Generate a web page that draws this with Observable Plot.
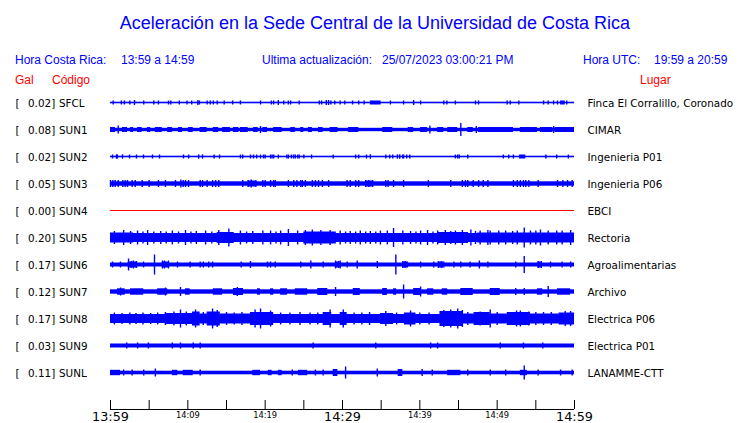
<!DOCTYPE html>
<html><head><meta charset="utf-8">
<script src="https://cdn.jsdelivr.net/npm/d3@7"></script>
<script src="https://cdn.jsdelivr.net/npm/@observablehq/plot@0.6"></script>
<style>
body{margin:0;background:#fff;}
#wrap{position:relative;width:740px;height:423px;overflow:hidden;font-family:"Liberation Sans",Arial,sans-serif;}
.t{position:absolute;white-space:pre;line-height:1;}
.blue{color:#0000ff;}
.red{color:#ff0000;}
#traces,#axis{position:absolute;left:0;}
#traces{top:89px;}
#axis{top:395px;}
</style></head><body>
<div id="wrap">
  <div class="t blue" id="title" style="top:14px;left:0;width:750px;text-align:center;font-size:18px;"></div>
  <div class="t blue" id="h1" style="top:54px;left:15px;font-size:12px;"></div>
  <div class="t blue" id="h1b" style="top:54px;left:121px;font-size:12px;"></div>
  <div class="t blue" id="h2" style="top:54px;left:262px;font-size:12px;"></div>
  <div class="t blue" id="h2b" style="top:54px;left:382px;font-size:12px;"></div>
  <div class="t blue" id="h3" style="top:54px;left:583px;font-size:12px;"></div>
  <div class="t blue" id="h3b" style="top:54px;left:654px;font-size:12px;"></div>
  <div class="t red" id="r1" style="top:74px;left:15px;font-size:12px;"></div>
  <div class="t red" id="r2" style="top:74px;left:52px;font-size:12px;"></div>
  <div class="t red" id="r3" style="top:74px;left:640px;font-size:12px;"></div>
  <div id="traces"></div>
  <div id="axis"></div>
</div>
<script>
// ---------- texts ----------
const titleText = "Aceleración en la Sede Central de la Universidad de Costa Rica";
const headerLabels = ["Hora Costa Rica:", "Ultima actualización:", "Hora UTC:"];
const headerValues = ["13:59 a 14:59", "25/07/2023 03:00:21 PM", "19:59 a 20:59"];
const columnLabels = ["Gal", "Código", "Lugar"];

// ---------- stations ----------
const codes = ["SFCL","SUN1","SUN2","SUN3","SUN4","SUN5","SUN6","SUN7","SUN8","SUN9","SUNL"];
const galValues = ["0.02","0.08","0.02","0.05","0.00","0.20","0.17","0.12","0.17","0.03","0.11"];
const places = ["Finca El Corralillo, Coronado","CIMAR","Ingenieria P01","Ingenieria P06","EBCI","Rectoria","Agroalimentarias","Archivo","Electrica P06","Electrica P01","LANAMME-CTT"];
const traceColors = ["#0000ff","#0000ff","#0000ff","#0000ff","#ff0000","#0000ff","#0000ff","#0000ff","#0000ff","#0000ff","#0000ff"];
// background noise half-amplitude of each trace (relative units)
const coreAmp = [0.8, 1.7, 0.8, 2.2, 0.5, 4.5, 2, 2.2, 4.2, 2, 1.8];

// ---------- time axis (minutes after 13:59) ----------
const tickMinutes = [0,5,10,15,20,25,30,35,40,45,50,55,60];
const labelMinutes = [0,10,20,30,40,50,60];
const timeLabels = ["13:59","14:09","14:19","14:29","14:39","14:49","14:59"];
const bigLabel = [true,false,false,true,false,false,true];

// ---------- bursts: [start min, end min, half-amplitude] ----------
const segsSFCL = [[33.6,35.0,2],[58.2,58.8,2]];
const segsSUN1 = [[0,0.65,2.5],[1.55,2.2,2.5],[2.6,3.0,2.5],[3.5,4.1,2.5],[4.8,5.2,2.5],[5.8,6.7,2.5],[7.4,8.0,2.5],[8.8,9.3,2.5],[10.1,10.7,2.5],[11.6,12.5,2.5],[13.3,14.0,2.5],[14.5,15.5,2.5],[15.9,16.6,2.5],[16.8,17.8,2.5],[18.5,19.1,2.5],[19.7,20.3,2.5],[21.1,22.2,2.5],[23.3,23.9,2.5],[24.6,25.0,2.5],[25.6,26.1,2.5],[26.9,27.5,2.5],[28.4,29.4,2.5],[30.8,32.1,2.5],[35.2,36.5,2.5],[38.5,39.2,2.5],[40.1,41.0,2.5],[42.3,43.1,2.5],[43.6,44.9,2.5],[46.2,46.9,2.5],[47.6,52.1,2.5],[53.0,55.2,2.5],[55.6,57.2,2.5],[57.5,60,2.5]];
const segsSUN2 = [[52.9,53.7,2]];
const segsSUN3 = [[17.8,18.8,3],[33.0,33.9,3]];
const segsSUN4 = [];
const segsSUN5 = [[0,3,5],[13.8,16,5.5],[25,29.2,6],[42.3,46.3,5.5],[47.5,60,5]];
const segsSUN6 = [[2.3,3.4,3],[6.7,7.5,3],[29.1,29.7,3],[37.8,38.4,3],[42.4,43.1,3],[55.3,55.7,3]];
const segsSUN7 = [[0.9,1.9,3.2],[2.6,4.3,3.2],[6.1,7.4,3.2],[9.7,10.3,3.2],[13.3,14.5,3.2],[15.9,17.2,3.5],[19.0,19.4,3.2],[20.7,21.1,3.2],[22.0,22.9,3.2],[23.9,25.5,3.2],[26.8,28.1,3.5],[31.4,32.3,3.5],[35.2,35.8,3.5],[36.6,37.0,3.2],[39.2,40.1,3.5],[41.0,41.8,3.2],[42.9,43.6,3.2],[45.3,46.9,3.5],[49.1,50.4,3.5],[55.2,55.9,3.2],[57.8,59.5,3.2]];
const segsSUN8 = [[0,7.1,4.5],[7.1,10.6,5.5],[10.6,11.6,7],[11.6,12.5,5],[12.5,14.2,7],[14.2,18.1,5],[18.1,21.1,6.5],[21.1,27.5,4.5],[27.5,28.6,6.5],[28.6,29.7,4.5],[29.7,30.6,6.5],[30.6,34.9,4.5],[34.9,36.6,5.5],[36.6,38,4.5],[38,39.5,6],[39.5,42.6,4.5],[42.6,45.6,7.5],[45.6,47,5],[47,49.1,6.5],[49.1,51.3,5],[51.3,54.3,6.5],[54.3,58,5],[58,60,6]];
const segsSUN9 = [];
const segsSUNL = [[0,1.3,2.7],[8.0,8.7,2.7],[9.4,10.7,2.7],[18.4,19.4,2.7],[20.4,20.9,2.7],[21.7,22.2,2.7],[24.3,25.5,2.7],[28.8,29.4,3.5],[37.2,37.8,3.5],[43.6,45.3,2.7],[53.0,53.9,2.7]];

// ---------- peaks: [minute, half-amplitude] ----------
const spikesSFCL = [[0.35,2],[1.4,2],[1.8,2],[2.5,2],[3.1,2.5],[4.3,2],[5.6,2],[6.2,2],[7.5,2],[7.8,2],[8.9,2],[9.9,2],[10.5,2],[11.3,2.5],[11.5,2],[12.5,2],[12.9,2],[13.3,2],[13.8,2],[14.7,2],[15.8,2],[16.8,2],[19.4,2],[20.8,2],[21.1,2],[21.7,2.5],[22.4,2],[23.0,2],[23.3,2],[24.4,2],[27.0,2],[27.3,2],[27.9,2.5],[28.2,2.5],[28.5,2],[29.0,2],[29.7,2],[30.3,2],[31.3,2],[32.1,2],[32.8,2],[36.2,2],[37.9,2],[39.2,2.5],[40.1,2],[43.1,2],[43.5,2],[44.6,2],[47.2,2],[47.6,2],[51.3,2],[51.7,2],[52.8,2],[56.0,2],[56.6,2],[57.3,2],[57.8,2],[59.0,2]];
const spikesSUN1 = [[1.0,4],[19.4,3.5],[41.3,4],[45.3,6.5],[47.3,3.5],[57.3,3.5]];
const spikesSUN2 = [[0.26,2],[0.78,2.2],[0.9,2],[1.55,2.2],[2.46,2],[3.36,2],[4.27,2],[5.43,2],[6.34,2],[9.44,2],[10.1,2],[11.4,2.2],[11.9,2.2],[13.4,2],[14.1,2],[16.8,2],[17.1,2],[18.1,2],[18.5,2],[18.9,2],[19.4,2],[19.8,2],[20.0,2],[20.7,2],[20.9,2],[21.1,2],[21.7,2],[22.8,2],[23.0,2],[23.4,2],[23.7,2],[23.9,2],[24.2,2],[24.4,2],[25.0,2],[26.0,2],[28.8,2],[31.7,2],[32.1,2],[33.1,2],[33.6,2.2],[35.6,2],[36.1,2],[36.5,2],[37.1,2.2],[37.4,2.2],[37.8,2],[37.9,2],[38.3,2],[38.7,2],[44.6,2],[44.9,2],[45.1,2],[46.2,2],[50.8,2],[51.5,2],[52.1,2],[56.3,2],[57.7,2],[59.2,2]];
const spikesSUN3 = [[0,3.5],[0.3,3.5],[0.6,3.5],[1.0,3.5],[1.6,3.5],[1.9,3.5],[2.2,3.5],[2.8,3.5],[3.2,3.5],[4.1,3.5],[5.0,3.5],[6.2,3.5],[7.1,3.5],[8.4,3.5],[9.1,4],[9.4,3.5],[9.7,3.5],[10.1,3.5],[11.6,3.5],[11.9,3.5],[12.5,3.5],[13.2,3.5],[13.6,3.5],[14.0,3.5],[17.1,3.5],[17.8,3.5],[18.2,4],[18.8,3.5],[19.7,3.5],[20.0,3.5],[20.7,3.5],[21.1,3.5],[21.3,3.5],[23.0,3.5],[23.7,3.5],[24.1,3.5],[24.6,3.5],[24.8,3.5],[25.2,3.5],[26.1,3.5],[26.5,3.5],[26.9,3.5],[27.4,3.5],[28.2,3.5],[30.6,3.5],[31.0,3.5],[31.7,3.5],[32.1,3.5],[33.0,3.5],[33.4,3.5],[33.9,3.5],[35.6,3.5],[35.9,3.5],[36.6,3.5],[37.9,3.5],[41.1,3.5],[44.0,3.5],[45.5,3.5],[45.9,3.5],[46.2,3.5],[46.9,3.5],[47.6,3.5],[48.2,3.5],[48.8,3.5],[52.1,3.5],[52.6,3.5],[53.0,3.5],[53.4,3.5],[53.7,3.5],[54.1,3.5],[55.3,3.5],[57.8,3.5],[58.5,3.5],[59.1,3.5],[59.7,3.5]];
const spikesSUN4 = [];
const spikesSUN5 = [[0.5,6.5],[1.7,7.5],[2.6,6.5],[3.5,7],[4.2,6],[4.8,7.5],[5.6,6],[6.5,6.5],[7.2,6],[8.0,7],[8.8,6],[9.7,7.5],[10.4,6],[11.1,6.5],[12.3,7],[13.1,6],[14.0,7.5],[15.3,9],[16.8,7],[17.6,6],[18.4,6.5],[19.7,7],[20.7,7],[21.4,6],[22.0,7],[23.0,8.5],[24.2,7],[25.2,7.5],[26.1,8],[27.2,7.5],[28.4,7.5],[29.7,7],[30.4,6],[31.0,6.5],[31.7,6],[32.3,7],[33.0,6],[33.6,6.5],[34.3,6],[34.9,7],[35.8,7],[36.6,9.5],[37.8,7],[38.8,6.5],[39.5,6],[40.1,7],[41.0,7.5],[41.7,6],[42.3,7],[43.3,7.5],[44.0,6.5],[44.6,7],[45.5,7.5],[46.6,8],[47.2,6.5],[47.8,7],[48.8,7.5],[49.1,7],[50.2,7],[51.1,7],[52.0,6.5],[52.6,7],[53.5,10],[54.3,7],[55.0,7],[55.6,8],[56.6,7],[57.7,7],[58.4,7],[59.5,7.5]];
const spikesSUN6 = [[0.26,3],[1.29,3],[2.33,6],[2.7,3.5],[2.97,4],[3.36,3.5],[4.27,3],[5.69,10],[6.72,4],[6.98,4],[7.5,4],[8.66,3],[10.3,3],[11.6,3],[12.0,3],[12.7,3],[13.2,3],[16.9,3],[18.1,3.5],[20.3,3],[20.7,3],[21.3,3],[24.6,3],[25.9,4],[27.5,3],[29.1,4],[29.5,3.5],[29.7,4],[30.6,3],[31.9,4],[34.5,3.5],[36.9,10],[37.8,3.5],[38.1,3.5],[38.4,3],[40.1,3],[41.8,3],[42.4,3.5],[42.8,3.5],[43.1,3],[44.4,3],[45.3,3],[46.5,3],[47.7,4],[48.8,3],[52.4,3],[53.5,8.5],[55.3,3.5],[55.7,3.5],[56.9,3],[58.4,3],[59.5,3]];
const spikesSUN7 = [[1.3,4],[7.1,4],[9.05,4.5],[16.4,4.5],[29.1,4.5],[37.9,7],[40.1,5],[52.4,3.5],[53.5,3.5],[56.6,5.5]];
const spikesSUN8 = [[0.5,6],[1.5,5.5],[2.5,6],[3.3,5.5],[4.2,6],[5.2,5.5],[6.1,6],[7.1,6.5],[8.2,7],[9.05,9],[9.8,7],[11.0,9],[12.0,6.5],[13.2,10],[13.8,8.5],[15.0,6.5],[16.0,6],[17.0,6.5],[18.7,9],[19.4,10],[20.7,8],[22.0,6],[23.2,6],[24.5,6.5],[25.8,6],[26.8,6],[28.4,9],[30.1,9],[31.5,6],[32.5,6],[33.5,6.5],[35.6,7.5],[37.0,6],[38.8,8],[40.0,6],[41.2,6],[43.1,8.5],[44.0,9],[44.9,10],[45.5,8.5],[46.2,6.5],[47.8,7],[49.1,9],[50.0,6.5],[52.5,8],[53.0,8],[54.1,7],[55.0,6.5],[56.0,6.5],[57.0,6.5],[58.8,7.5],[59.5,7.5]];
const spikesSUN9 = [[2.1,3],[3.5,3],[4.9,3],[8.0,3],[9.05,3],[10.7,3],[11.6,3],[26.2,3],[34.3,3],[41.4,3],[42.3,3],[50.4,3],[53.4,3],[55.9,3]];
const spikesSUNL = [[1.7,3],[2.8,3],[4.3,3],[5.8,4],[11.6,3],[23.5,3],[26.5,3],[27.5,3],[30.4,6],[34.5,4],[40.3,3.5],[41.6,3],[46.2,3],[49.1,3],[51.1,3],[53.5,7],[55.3,3],[58.2,3],[59.7,3]];

const segsList = [segsSFCL,segsSUN1,segsSUN2,segsSUN3,segsSUN4,segsSUN5,segsSUN6,segsSUN7,segsSUN8,segsSUN9,segsSUNL];
const spikesList = [spikesSFCL,spikesSUN1,spikesSUN2,spikesSUN3,spikesSUN4,spikesSUN5,spikesSUN6,spikesSUN7,spikesSUN8,spikesSUN9,spikesSUNL];

// ---------- headers ----------
document.getElementById("title").textContent = titleText;
document.getElementById("h1").textContent = headerLabels[0];
document.getElementById("h1b").textContent = headerValues[0];
document.getElementById("h2").textContent = headerLabels[1];
document.getElementById("h2b").textContent = headerValues[1];
document.getElementById("h3").textContent = headerLabels[2];
document.getElementById("h3b").textContent = headerValues[2];
document.getElementById("r1").textContent = columnLabels[0];
document.getElementById("r2").textContent = columnLabels[1];
document.getElementById("r3").textContent = columnLabels[2];

// ---------- tables ----------
const stations = codes.map((code, i) => ({code, gal: galValues[i], place: places[i], color: traceColors[i], core: coreAmp[i]}));
const coreRows = stations.map(s => ({code: s.code, t0: 0, t1: 60, a: s.core, color: s.color}));
const segRows = [];
const spikeRows = [];
codes.forEach((code, i) => {
  segsList[i].forEach(([t0, t1, a]) => segRows.push({code, t0, t1, a, color: traceColors[i]}));
  spikesList[i].forEach(([t, a]) => spikeRows.push({code, t, a, color: traceColors[i]}));
});

const traces = Plot.plot({
  width: 740,
  height: 297,
  marginTop: 0, marginBottom: 0, marginLeft: 110, marginRight: 166,
  style: {fontFamily: "DejaVu Sans", fontSize: "10.4px", background: "transparent", overflow: "visible"},
  x: {domain: [0, 60], axis: null},
  y: {domain: [-13.5, 13.5], axis: null},
  fy: {domain: codes, padding: 0, axis: null},
  color: {type: "identity"},
  marks: [
    Plot.rect(coreRows, {x1: "t0", x2: "t1", y1: d => -d.a, y2: d => d.a, fy: "code", fill: "color"}),
    Plot.rect(segRows, {x1: "t0", x2: "t1", y1: d => -d.a, y2: d => d.a, fy: "code", fill: "color"}),
    Plot.ruleX(spikeRows, {x: "t", y1: d => -d.a, y2: d => d.a, fy: "code", stroke: "color", strokeWidth: 1.4}),
    Plot.text(stations, {fy: "code", text: () => "[", frameAnchor: "left", textAnchor: "start", dx: -95, dy: 1, fill: "black"}),
    Plot.text(stations, {fy: "code", text: d => d.gal + "]", frameAnchor: "left", textAnchor: "start", dx: -82.5, dy: 1, fill: "black"}),
    Plot.text(stations, {fy: "code", text: "code", frameAnchor: "left", textAnchor: "start", dx: -51.5, dy: 1, fill: "black"}),
    Plot.text(stations, {fy: "code", text: "place", frameAnchor: "right", textAnchor: "start", dx: 13, dy: 1, fill: "black"})
  ]
});
document.getElementById("traces").appendChild(traces);

const labelRows = labelMinutes.map((t, i) => ({t, label: timeLabels[i], big: bigLabel[i]}));
const axis = Plot.plot({
  width: 740,
  height: 28,
  marginTop: 5, marginBottom: 14, marginLeft: 110, marginRight: 166,
  style: {fontFamily: "DejaVu Sans", background: "transparent", overflow: "visible"},
  x: {domain: [0, 60], axis: null},
  y: {domain: [0, 1], axis: null},
  marks: [
    Plot.ruleY([0], {x1: 0, x2: 60, stroke: "black"}),
    Plot.ruleX(tickMinutes, {x: d => d, y1: 0, y2: 1, stroke: "black"}),
    Plot.text(labelRows.filter(d => d.big), {x: "t", y: 0, text: "label", fontSize: 12.8, dy: 7, lineAnchor: "middle", fill: "black"}),
    Plot.text(labelRows.filter(d => !d.big), {x: "t", y: 0, text: "label", fontSize: 8.3, dy: 6, lineAnchor: "middle", fill: "black"})
  ]
});
document.getElementById("axis").appendChild(axis);
</script>
</body></html>
